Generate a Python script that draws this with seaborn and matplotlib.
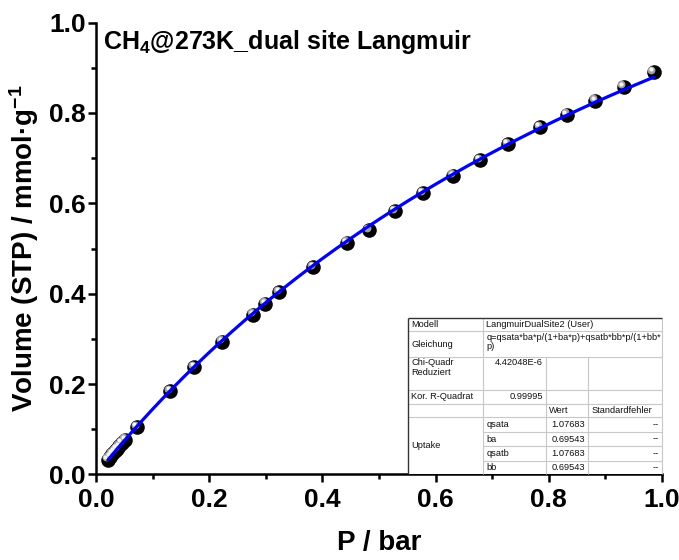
import numpy as np
import pandas as pd
import matplotlib
matplotlib.use("Agg")
import matplotlib.pyplot as plt
from matplotlib.transforms import offset_copy
from matplotlib.patches import Rectangle
import seaborn as sns

# ---------------- data ----------------
pressure = [0.021, 0.025, 0.029, 0.033, 0.037, 0.041, 0.046, 0.052, 0.072,
            0.131, 0.174, 0.223, 0.278, 0.299, 0.324, 0.384, 0.443, 0.482,
            0.528, 0.577, 0.631, 0.678, 0.728, 0.784, 0.832, 0.882, 0.932, 0.985]
volume = [0.033, 0.039, 0.045, 0.051, 0.056, 0.062, 0.069, 0.077, 0.105,
          0.184, 0.238, 0.294, 0.354, 0.378, 0.403, 0.459, 0.513, 0.541,
          0.583, 0.622, 0.661, 0.696, 0.731, 0.768, 0.796, 0.827, 0.858, 0.890]

# report table content
model_name = "LangmuirDualSite2 (User)"
equation = "q=qsata*ba*p/(1+ba*p)+qsatb*bb*p/(1+bb*\np)"
chi2_red = "4.42048E-6"
r2_adj = "0.99995"
param_names = ["qsata", "ba", "qsatb", "bb"]
param_vals = ["1.07683", "0.69543", "1.07683", "0.69543"]
param_err = ["--", "--", "--", "--"]

title = "CH$_4$@273K_dual site Langmuir"
xlabel = "P / bar"
ylabel = "Volume (STP) / mmol·g$^{-1}$"

# ---------------- style ----------------
sns.set_style("ticks")
plt.rcParams["font.family"] = ["Liberation Sans", "DejaVu Sans"]
plt.rcParams["font.weight"] = "bold"
plt.rcParams["axes.labelweight"] = "bold"
plt.rcParams["text.color"] = "black"
plt.rcParams["axes.labelcolor"] = "black"
plt.rcParams["xtick.color"] = "black"
plt.rcParams["ytick.color"] = "black"
plt.rcParams["mathtext.fontset"] = "custom"
plt.rcParams["mathtext.rm"] = "Liberation Sans:bold"
plt.rcParams["mathtext.it"] = "Liberation Sans:bold"
plt.rcParams["mathtext.bf"] = "Liberation Sans:bold"
plt.rcParams["mathtext.default"] = "rm"

fig = plt.figure(figsize=(6.79, 5.60), dpi=100)
ax = fig.add_axes([0.1414, 0.1527, 0.8336, 0.807])

df = pd.DataFrame({"P": pressure, "V": volume})

# ball markers: black sphere + highlight
sns.scatterplot(data=df, x="P", y="V", ax=ax, color="black", s=110,
                linewidth=0, zorder=3, legend=False)
hl1 = offset_copy(ax.transData, fig=fig, x=-1.5, y=1.7, units="points")
sns.scatterplot(data=df, x="P", y="V", ax=ax, color="#a0a0a0", s=32,
                linewidth=0, zorder=3.1, legend=False, transform=hl1)
hl2 = offset_copy(ax.transData, fig=fig, x=-1.9, y=2.1, units="points")
sns.scatterplot(data=df, x="P", y="V", ax=ax, color="#f4f4f4", s=9,
                linewidth=0, zorder=3.2, legend=False, transform=hl2)

# Langmuir fit curve through the plotted data (linearised least squares)
p_arr = np.array(pressure)
v_arr = np.array(volume)
slope, icpt = np.polyfit(p_arr, p_arr / v_arr, 1)
q_m = 1.0 / slope
b_l = 1.0 / (icpt * q_m)
p_fit = np.linspace(p_arr.min(), p_arr.max(), 300)
q_fit = q_m * b_l * p_fit / (1 + b_l * p_fit)
sns.lineplot(x=p_fit, y=q_fit, ax=ax, color="#0000ff", linewidth=2.3,
             estimator=None, sort=False, zorder=4)

ax.set_xlim(0, 1.0)
ax.set_ylim(0, 1.0)
ax.set_xticks(np.arange(0, 1.01, 0.2))
ax.set_yticks(np.arange(0, 1.01, 0.2))
ax.set_xticks(np.arange(0.1, 1.0, 0.2), minor=True)
ax.set_yticks(np.arange(0.1, 1.0, 0.2), minor=True)
ax.xaxis.set_major_formatter(matplotlib.ticker.FormatStrFormatter("%.1f"))
ax.yaxis.set_major_formatter(matplotlib.ticker.FormatStrFormatter("%.1f"))
ax.tick_params(which="major", direction="out", length=6, width=1.8,
               labelsize=19, color="black", labelcolor="black")
ax.tick_params(axis="x", which="major", pad=4)
ax.tick_params(axis="y", which="major", pad=1.5)
ax.tick_params(which="minor", direction="out", length=3.5, width=1.8, color="black")
for t in ax.get_xticklabels() + ax.get_yticklabels():
    t.set_fontweight("bold")
sns.despine(ax=ax)
for s in ["left", "bottom"]:
    ax.spines[s].set_linewidth(1.8)
    ax.spines[s].set_color("black")

ax.set_xlabel(xlabel, fontsize=20, fontweight="bold", labelpad=13)
ax.set_ylabel(ylabel, fontsize=20, fontweight="bold", labelpad=6)
ax.text(0.012, 0.988, title, transform=ax.transAxes, ha="left", va="top",
        fontsize=18, fontweight="bold")

# ---------------- report table ----------------
px_x = 566.0
px_y = 452.0
col_w = [75, 62.4, 42.6, 73.7]
row_h = [13.7, 25.7, 33, 13.6, 13.2, 15.4, 14, 14.7, 13.7]
x0 = 1.0 - sum(col_w) / px_x
xs = [x0]
for w in col_w:
    xs.append(xs[-1] + w / px_x)
ytop = sum(row_h) / px_y
ys = [ytop]
for h in row_h:
    ys.append(ys[-1] - h / px_y)
ys[-1] = 0.0

tr = ax.transAxes
ax.add_patch(Rectangle((xs[0], 0), xs[-1] - xs[0], ytop, transform=tr,
                       facecolor="white", edgecolor="none", zorder=5, clip_on=False))
grid_c = "#c8c8c8"
lw_in = 0.8


def hline(y, xa, xb, c=grid_c, lw=lw_in):
    ax.plot([xa, xb], [y, y], transform=tr, color=c, lw=lw, zorder=6,
            clip_on=False, solid_capstyle="butt")


def vline(x, ya, yb, c=grid_c, lw=lw_in):
    ax.plot([x, x], [ya, yb], transform=tr, color=c, lw=lw, zorder=6,
            clip_on=False, solid_capstyle="butt")


for i in range(1, 6):
    hline(ys[i], xs[0], xs[-1])
for i in range(6, 9):
    hline(ys[i], xs[1], xs[-1])
vline(xs[1], 0, ytop)
vline(xs[2], 0, ys[2])
vline(xs[3], 0, ys[2])
vline(xs[4], 0, ytop)
hline(ytop, xs[0], xs[-1], c="#333333", lw=1.0)
vline(xs[0], 0, ytop, c="#333333", lw=1.0)

fs = 6.7
padx = 3 / px_x
pady = 1.5 / px_y


def cell_text(s, col, row, ha="left", va="center", row_end=None):
    r2 = row if row_end is None else row_end
    if ha == "left":
        x = xs[col] + padx
    else:
        x = xs[col + 1] - padx
    if va == "center":
        y = (ys[row] + ys[r2 + 1]) / 2
    else:
        y = ys[row] - pady
    ax.text(x, y, s, transform=tr, ha=ha, va=va, fontsize=fs,
            fontweight="normal", color="#111111", zorder=7, linespacing=1.05)


cell_text("Modell", 0, 0)
cell_text(model_name, 1, 0)
cell_text("Gleichung", 0, 1)
cell_text(equation, 1, 1, va="top")
cell_text("Chi-Quadr\nReduziert", 0, 2, va="top")
cell_text(chi2_red, 1, 2, ha="right", va="top")
cell_text("Kor. R-Quadrat", 0, 3)
cell_text(r2_adj, 1, 3, ha="right")
cell_text("Wert", 2, 4)
cell_text("Standardfehler", 3, 4)
cell_text("Uptake", 0, 5, row_end=8)
for i, (n, v, e) in enumerate(zip(param_names, param_vals, param_err)):
    cell_text(n, 1, 5 + i)
    cell_text(v, 2, 5 + i, ha="right")
    cell_text(e, 3, 5 + i, ha="right")

fig.savefig("out.png", dpi=100)
